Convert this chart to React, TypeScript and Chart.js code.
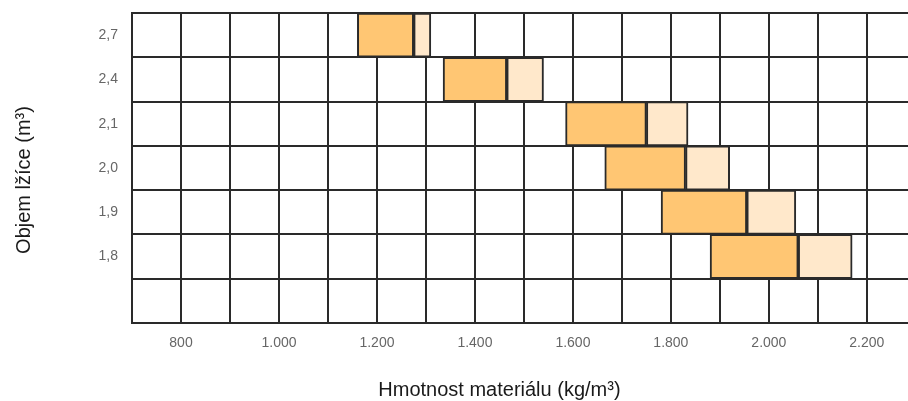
import React, { useEffect, useRef } from "react";
import { Chart, registerables } from "chart.js";

Chart.register(...registerables);

const categories = ["2,7", "2,4", "2,1", "2,0", "1,9", "1,8", ""];
const rangeStart = [1160, 1335, 1585, 1665, 1780, 1880];
const rangeMid = [1275, 1465, 1750, 1830, 1955, 2060];
const rangeEnd = [1310, 1540, 1835, 1920, 2055, 2170];
const xMin = 700;
const xMax = 2284;
const xStep = 100;
const xLabelEvery = 200;
const xTitle = "Hmotnost materiálu (kg/m³)";
const yTitle = "Objem lžíce (m³)";

function fmt(v: number): string {
  if (v >= 1000) {
    return Math.floor(v / 1000) + "." + String(v % 1000).padStart(3, "0");
  }
  return String(v);
}

const titlePlugin = {
  id: "axisTitlesCustom",
  afterDraw(chart: any) {
    const { ctx, chartArea, scales } = chart;
    ctx.save();
    ctx.fillStyle = "#1a1a1a";
    ctx.font = '20px "Liberation Sans", Arial, sans-serif';
    ctx.textAlign = "center";
    ctx.textBaseline = "middle";
    const xc = (chartArea.left + scales.x.getPixelForValue(2200)) / 2;
    ctx.fillText(xTitle, xc, 390);
    ctx.translate(24, (chartArea.top + chartArea.bottom) / 2 + 12);
    ctx.rotate(-Math.PI / 2);
    ctx.fillText(yTitle, 0, 0);
    ctx.restore();
  },
};

function clearPadding(scale: any) {
  scale.paddingTop = 0;
  scale.paddingBottom = 0;
  scale.paddingLeft = 0;
  scale.paddingRight = 0;
}

export default function App() {
  const ref = useRef<HTMLCanvasElement | null>(null);
  useEffect(() => {
    document.body.style.margin = "0";
    if (!ref.current) return;
    const gridColor = "#2a2a2a";
    const chart = new Chart(ref.current, {
      type: "bar",
      data: {
        labels: categories,
        datasets: [
          {
            label: "min",
            data: rangeStart.map((s, i) => [s, rangeMid[i]]) as any,
            backgroundColor: "#FFC673",
            borderColor: "#2a2a2a",
            borderWidth: 2,
            borderSkipped: false,
            grouped: false,
            barPercentage: 1,
            categoryPercentage: 1,
          } as any,
          {
            label: "max",
            data: rangeMid.map((s, i) => [s, rangeEnd[i]]) as any,
            backgroundColor: "#FFE8CB",
            borderColor: "#2a2a2a",
            borderWidth: 2,
            borderSkipped: false,
            grouped: false,
            barPercentage: 1,
            categoryPercentage: 1,
          } as any,
        ],
      },
      options: {
        indexAxis: "y",
        animation: false,
        responsive: true,
        maintainAspectRatio: false,
        layout: { padding: { top: 13, right: 0, left: 0, bottom: 0 } },
        plugins: {
          legend: { display: false },
          tooltip: { enabled: false },
        },
        scales: {
          x: {
            type: "linear",
            min: xMin,
            max: xMax,
            afterFit(scale: any) {
              scale.height = 78;
              clearPadding(scale);
            },
            ticks: {
              stepSize: xStep,
              includeBounds: false,
              autoSkip: false,
              maxRotation: 0,
              padding: 12,
              color: "#666",
              font: { family: '"Liberation Sans", Arial, sans-serif', size: 14 },
              callback: (v: any) => (Number(v) % xLabelEvery === 0 ? fmt(Number(v)) : ""),
            },
            grid: { color: gridColor, lineWidth: 2, drawTicks: false },
            border: { color: gridColor, width: 2 },
          },
          y: {
            type: "category",
            offset: true,
            afterFit(scale: any) {
              scale.width = 132;
              clearPadding(scale);
            },
            ticks: {
              padding: 14,
              color: "#666",
              font: { family: '"Liberation Sans", Arial, sans-serif', size: 14 },
            },
            grid: { color: gridColor, lineWidth: 2, drawTicks: false, offset: true },
            border: { color: gridColor, width: 2 },
          },
        },
      } as any,
      plugins: [titlePlugin],
    });
    return () => chart.destroy();
  }, []);
  return (
    <div style={{ position: "absolute", left: 0, top: 0, width: 908, height: 401 }}>
      <canvas ref={ref} />
    </div>
  );
}
